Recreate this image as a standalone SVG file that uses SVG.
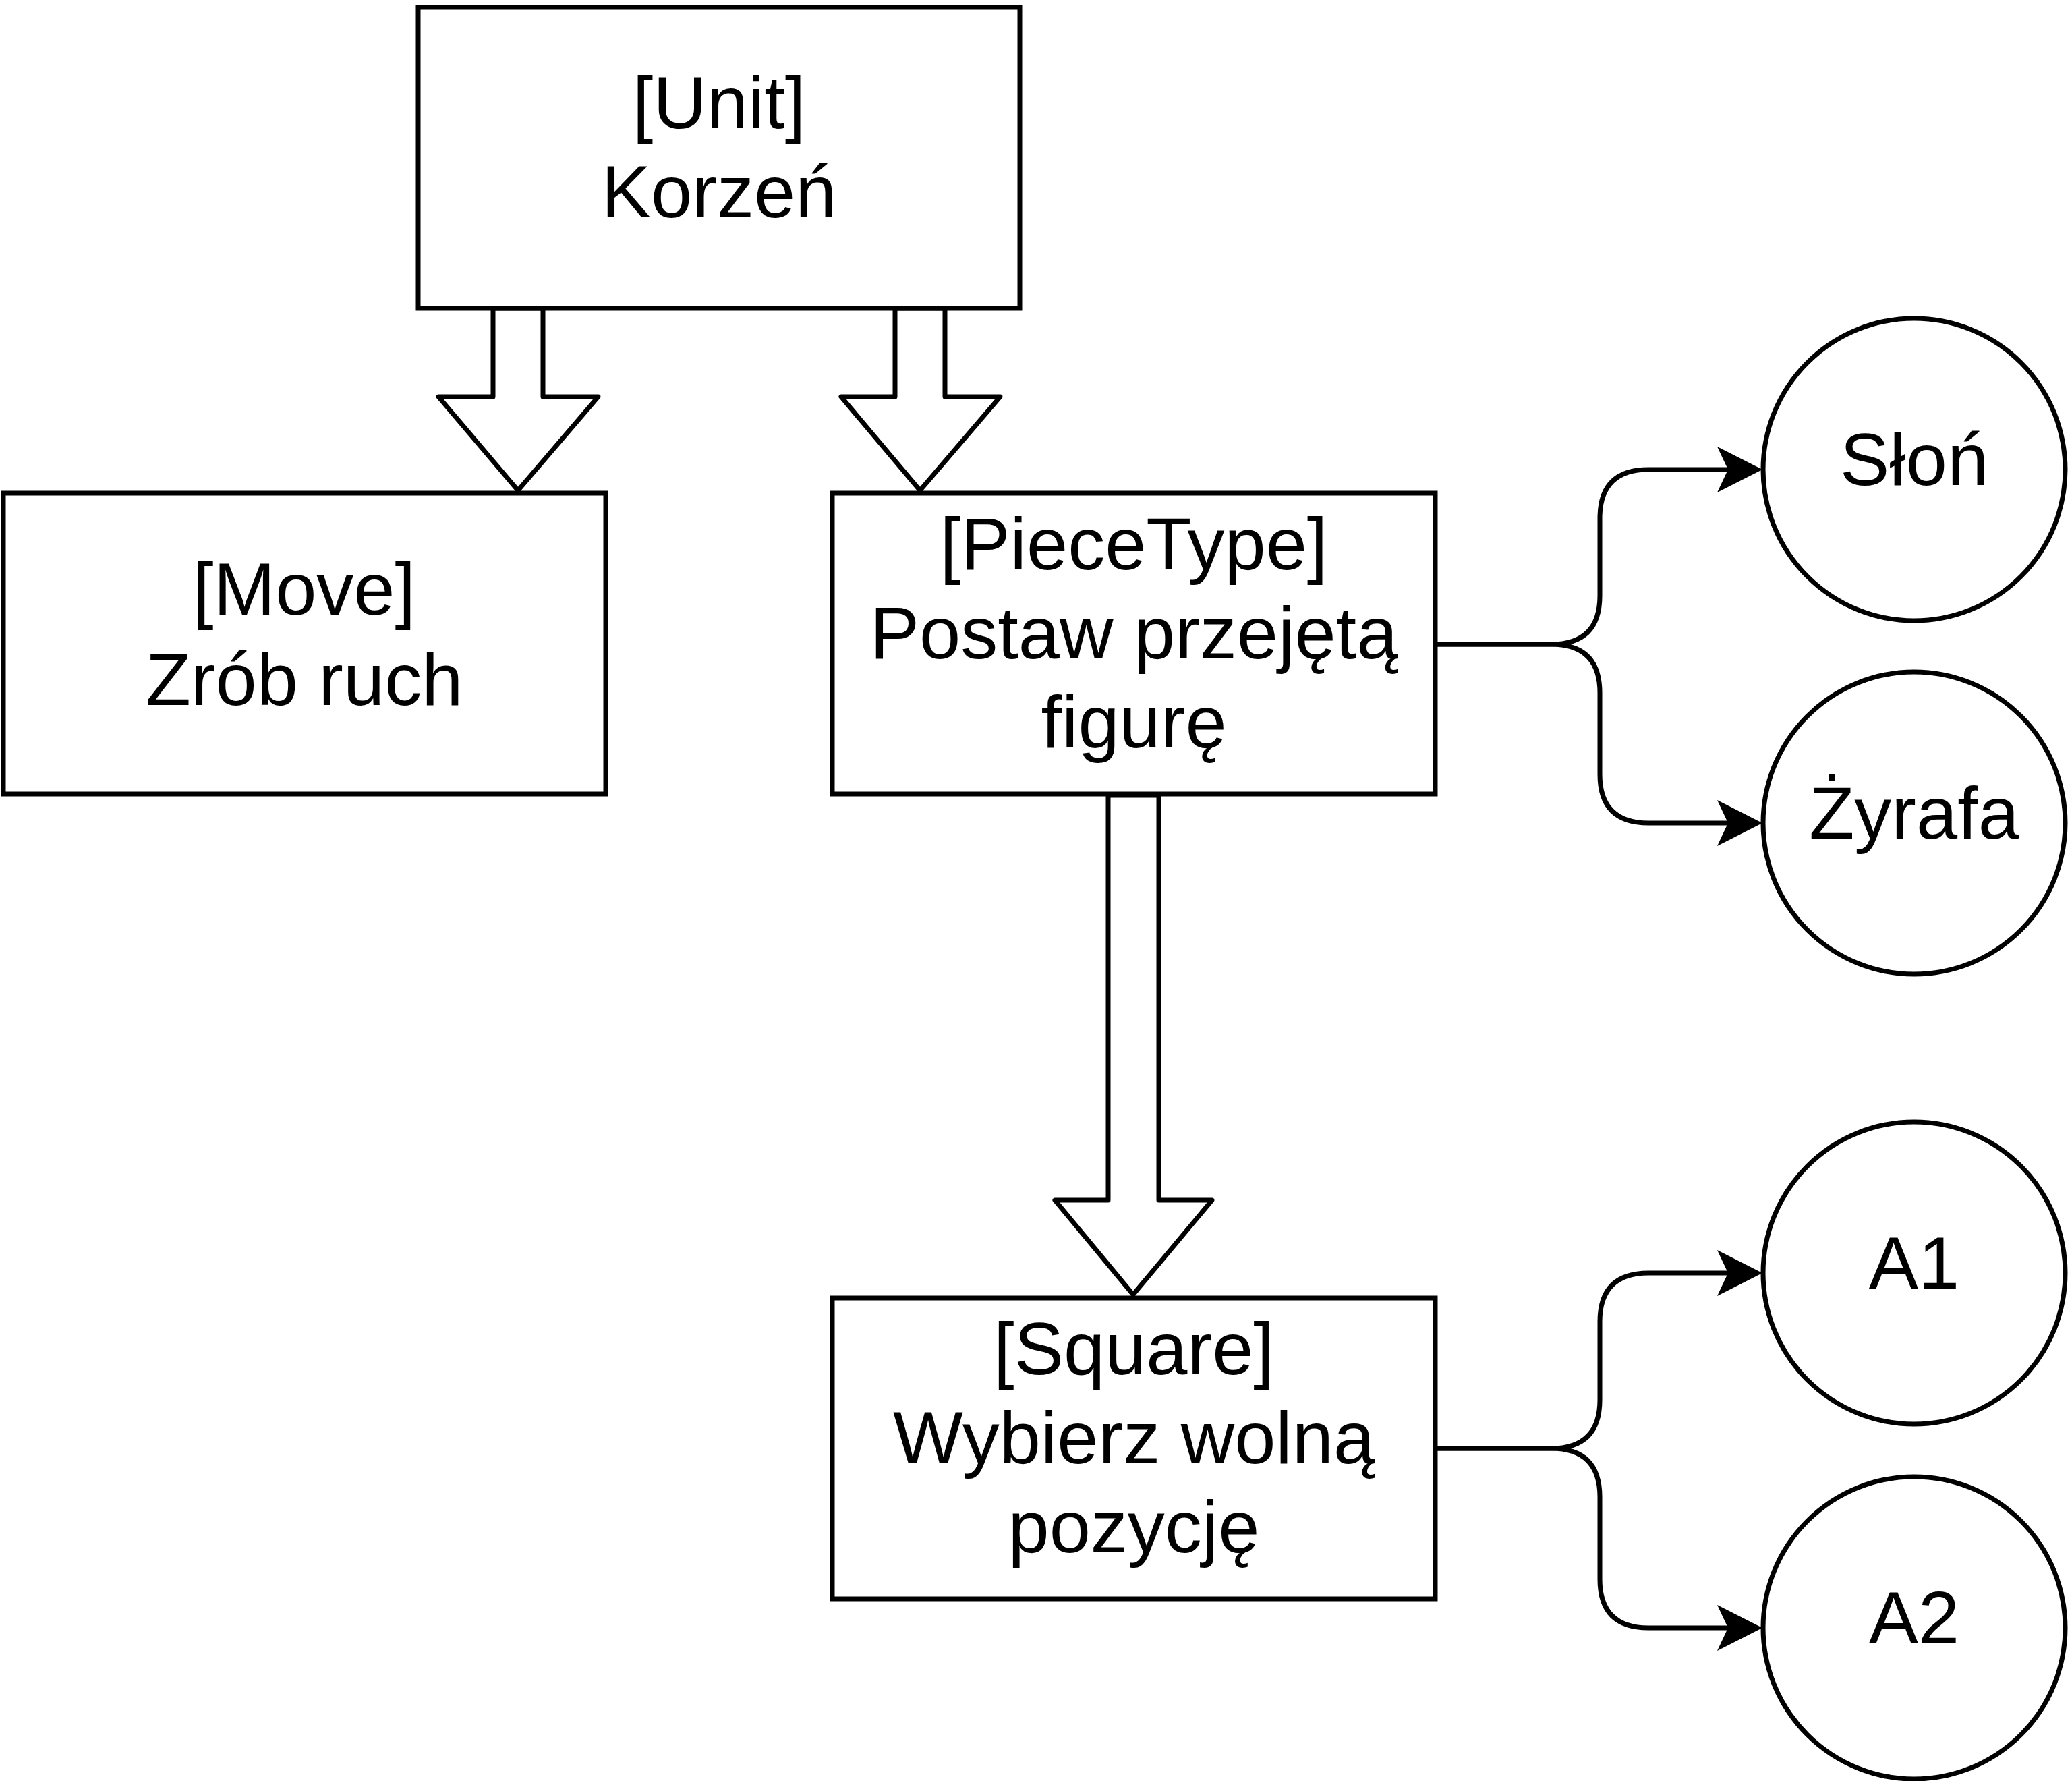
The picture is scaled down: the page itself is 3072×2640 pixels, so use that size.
<svg xmlns="http://www.w3.org/2000/svg" width="3072" height="2640" viewBox="0 0 3072 2640">
  <style>
    .box { fill: #ffffff; stroke: #000000; stroke-width: 7; }
    .blk { fill: #ffffff; stroke: #000000; stroke-width: 7; stroke-linejoin: round; }
    .edge { fill: none; stroke: #000000; stroke-width: 7; }
    .lbl { font-family: "Liberation Sans", Arial, Helvetica, sans-serif; font-size: 110px; fill: #000000; text-anchor: middle; }
  </style>
  <defs>
    <marker id="arrow" markerUnits="userSpaceOnUse" markerWidth="70" markerHeight="70" viewBox="0 0 70 70" refX="16" refY="35" orient="auto">
      <path d="M0,1 L67,35 L0,69 L16,35 Z" fill="#000000"/>
    </marker>
  </defs>
  <rect width="3072" height="2640" fill="#ffffff"/>

  <g id="connectors">
    <polygon class="blk" points="731,457 805,457 805,588 887,588 768,727 650,588 731,588"/>
    <polygon class="blk" points="1327,457 1401,457 1401,588 1483,588 1364,727 1247,588 1327,588"/>
    <polygon class="blk" points="1643,1179 1718,1179 1718,1779 1797,1779 1680,1919 1564,1779 1643,1779"/>
    <path class="edge" marker-end="url(#arrow)" d="M2128,955 L2300,955 Q2372,955 2372,883 L2372,768 Q2372,696 2444,696 L2562,696"/>
    <path class="edge" marker-end="url(#arrow)" d="M2128,955 L2300,955 Q2372,955 2372,1027 L2372,1148 Q2372,1220 2444,1220 L2562,1220"/>
    <path class="edge" marker-end="url(#arrow)" d="M2128,2147 L2300,2147 Q2372,2147 2372,2075 L2372,1959 Q2372,1887 2444,1887 L2562,1887"/>
    <path class="edge" marker-end="url(#arrow)" d="M2128,2147 L2300,2147 Q2372,2147 2372,2219 L2372,2341 Q2372,2413 2444,2413 L2562,2413"/>
  </g>

  <g id="unit">
    <rect class="box" x="620" y="11" width="892" height="446"/>
    <text class="lbl" x="1066" y="190">[Unit]</text>
    <text class="lbl" x="1066" y="322">Korzeń</text>
  </g>
  <g id="move">
    <rect class="box" x="5" y="731" width="893" height="446"/>
    <text class="lbl" x="451" y="911">[Move]</text>
    <text class="lbl" x="451" y="1045">Zrób ruch</text>
  </g>
  <g id="piecetype">
    <rect class="box" x="1234" y="731" width="894" height="446"/>
    <text class="lbl" x="1681" y="844">[PieceType]</text>
    <text class="lbl" x="1681" y="976">Postaw przejętą</text>
    <text class="lbl" x="1681" y="1108">figurę</text>
  </g>
  <g id="square">
    <rect class="box" x="1234" y="1924" width="894" height="446"/>
    <text class="lbl" x="1681" y="2037">[Square]</text>
    <text class="lbl" x="1681" y="2169">Wybierz wolną</text>
    <text class="lbl" x="1681" y="2301">pozycję</text>
  </g>
  <g id="slon">
    <circle class="box" cx="2838" cy="696" r="224"/>
    <text class="lbl" x="2838" y="719">Słoń</text>
  </g>
  <g id="zyrafa">
    <circle class="box" cx="2838" cy="1220" r="224"/>
    <text class="lbl" x="2838" y="1243">Żyrafa</text>
  </g>
  <g id="a1">
    <circle class="box" cx="2838" cy="1887" r="224"/>
    <text class="lbl" x="2838" y="1910">A1</text>
  </g>
  <g id="a2">
    <circle class="box" cx="2838" cy="2413" r="224"/>
    <text class="lbl" x="2838" y="2436">A2</text>
  </g>
</svg>
